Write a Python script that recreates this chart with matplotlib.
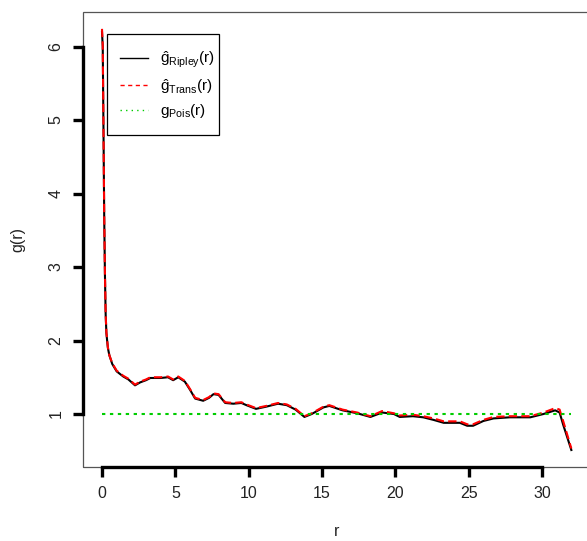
import matplotlib
matplotlib.use("Agg")
import matplotlib.pyplot as plt
from matplotlib.lines import Line2D
from matplotlib.patches import Rectangle

plt.rcParams['font.family'] = ['Liberation Sans', 'DejaVu Sans']
plt.rcParams['mathtext.fontset'] = 'custom'
plt.rcParams['mathtext.rm'] = 'Liberation Sans'
plt.rcParams['mathtext.it'] = 'Liberation Sans'

# ---- data ----
r_vals = [0, 0.05, 0.1, 0.15, 0.2, 0.25, 0.3, 0.4, 0.5, 0.7,
          1.0, 1.45, 1.8, 2.25, 2.6, 3.0, 3.3, 4.0, 4.5, 4.85,
          5.2, 5.65, 6.0, 6.35, 6.9, 7.3, 7.6, 7.95, 8.4, 8.95,
          9.5, 9.85, 10.5, 11.2, 12.0, 12.6, 13.2, 13.8, 14.3, 15.1,
          15.5, 16.4, 17.4, 18.3, 19.1, 19.9, 20.3, 21.2, 21.9, 22.6,
          23.3, 24.4, 24.9, 25.3, 26.0, 26.7, 27.8, 29.2, 30.1, 30.9,
          31.2, 31.45, 32.0]
g_ripley = [6.20, 6.0, 4.9, 3.7, 2.9, 2.35, 2.1, 1.9, 1.8, 1.68,
            1.58, 1.51, 1.47, 1.39, 1.43, 1.46, 1.49, 1.49, 1.50, 1.46,
            1.50, 1.44, 1.33, 1.21, 1.18, 1.22, 1.27, 1.26, 1.15, 1.14,
            1.15, 1.12, 1.07, 1.10, 1.14, 1.12, 1.06, 0.96, 1.0, 1.09,
            1.11, 1.05, 1.01, 0.96, 1.02, 1.0, 0.96, 0.97, 0.955, 0.92,
            0.88, 0.88, 0.84, 0.84, 0.905, 0.94, 0.955, 0.955, 1.0, 1.05,
            1.02, 0.85, 0.51]
g_trans = [6.24, 6.02, 4.92, 3.72, 2.92, 2.36, 2.11, 1.91, 1.80, 1.69,
           1.59, 1.52, 1.48, 1.40, 1.44, 1.47, 1.50, 1.50, 1.51, 1.47,
           1.51, 1.45, 1.34, 1.22, 1.19, 1.23, 1.28, 1.27, 1.16, 1.15,
           1.16, 1.13, 1.08, 1.11, 1.15, 1.13, 1.07, 0.97, 1.01, 1.10,
           1.12, 1.06, 1.02, 0.97, 1.04, 1.01, 0.98, 0.99, 0.97, 0.94,
           0.90, 0.90, 0.86, 0.86, 0.92, 0.96, 0.97, 0.97, 1.02, 1.08,
           1.06, 0.90, 0.53]
g_pois = [1.0, 1.0]
r_pois = [0, 32]
x_ticks = [0, 5, 10, 15, 20, 25, 30]
y_ticks = [1, 2, 3, 4, 5, 6]
labels = [r'$\hat{\mathrm{g}}_{\mathrm{Ripley}}\mathrm{(r)}$',
          r'$\hat{\mathrm{g}}_{\mathrm{Trans}}\mathrm{(r)}$',
          r'$\mathrm{g}_{\mathrm{Pois}}\mathrm{(r)}$']

W, H = 587, 541
fig = plt.figure(figsize=(W / 100, H / 100), dpi=100)
xlim = (-1.3, 33.3)
ylim = (0.28, 6.47)
pxu_x = 14.667
pxu_y = 73.5
left_px = 102 + xlim[0] * pxu_x
right_px = 102 + xlim[1] * pxu_x
top_px = 414 - (ylim[1] - 1) * pxu_y
bot_px = 414 + (1 - ylim[0]) * pxu_y
ax = fig.add_axes([left_px / W, 1 - bot_px / H, (right_px - left_px) / W, (bot_px - top_px) / H])
ax.set_xlim(*xlim)
ax.set_ylim(*ylim)

lw = 1.5
ax.plot(r_vals, g_ripley, color='black', lw=lw, solid_joinstyle='round')
ax.plot(r_vals, g_trans, color='#FF0000', lw=lw, linestyle=(0, (4, 2)))
ax.plot(r_pois, g_pois, color='#00CD00', lw=lw, linestyle=(0, (1.6, 2.2)))

# box
for s in ['top', 'right']:
    ax.spines[s].set_visible(False)
ax.add_patch(Rectangle((0, 0), 1, 1, transform=ax.transAxes, fill=False,
                       edgecolor='#555555', lw=0.9, clip_on=False, zorder=5))
for s in ['left', 'bottom']:
    ax.spines[s].set_linewidth(2.4)
    ax.spines[s].set_color('black')
    ax.spines[s].set_zorder(6)
ax.spines['left'].set_bounds(1, 6)
ax.spines['bottom'].set_bounds(0, 30)
ax.set_xticks(x_ticks)
ax.set_yticks(y_ticks)
ax.tick_params(axis='both', length=7, width=2.4, color='black', labelsize=11.5,
               labelcolor='#222222', pad=7)
for t in ax.get_yticklabels():
    t.set_rotation(90)
    t.set_va('center')
ax.set_xlabel('r', fontsize=11.5, color='#222222', labelpad=16)
ax.set_ylabel('g(r)', fontsize=11.5, color='#222222', labelpad=17)

handles = [Line2D([], [], color='black', lw=1),
           Line2D([], [], color='#FF0000', lw=1, linestyle=(0, (3, 2.5))),
           Line2D([], [], color='#00CD00', lw=1, linestyle=(0, (1, 3)))]
leg = ax.legend(handles, labels, loc='upper left',
                bbox_to_anchor=(120 / W, 1 - 50 / H), bbox_transform=fig.transFigure,
                borderaxespad=0, frameon=False,
                fontsize=11, handlelength=1.85, handletextpad=0.75,
                labelspacing=0.42, borderpad=0)
fig.patches.append(Rectangle((107 / W, 1 - 135 / H), 112 / W, 101 / H,
                             transform=fig.transFigure, fill=False,
                             edgecolor='black', lw=0.9, zorder=7))

fig.savefig('out.png', dpi=100)
